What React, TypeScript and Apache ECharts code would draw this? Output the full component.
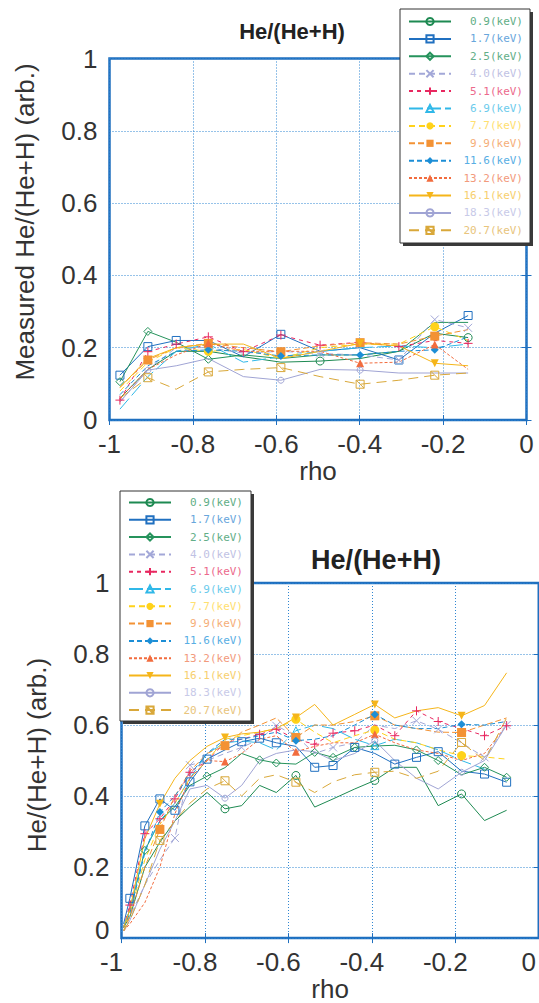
import React, { useEffect, useRef } from "react";
import * as echarts from "echarts";

// ---------- data ----------
const NAMES = [
  "0.9(keV)", "1.7(keV)", "2.5(keV)", "4.0(keV)", "5.1(keV)", "6.9(keV)", "7.7(keV)",
  "9.9(keV)", "11.6(keV)", "13.2(keV)", "16.1(keV)", "18.3(keV)", "20.7(keV)",
];
const X_TICKS = [-1, -0.8, -0.6, -0.4, -0.2, 0];
const Y_TICKS = [0, 0.2, 0.4, 0.6, 0.8, 1];

// upper panel: "Measured He/(He+H)"
const TOP_X = [-0.975, -0.908, -0.84, -0.763, -0.679, -0.589, -0.495, -0.399, -0.306, -0.22, -0.14];
const TOP_09 = [0.06, 0.14, 0.19, 0.19, 0.175, 0.16, 0.163, 0.17, 0.19, 0.24, 0.228];
const TOP_17 = [0.124, 0.203, 0.22, 0.22, 0.175, 0.237, 0.19, 0.2, 0.166, 0.24, 0.289];
const TOP_25 = [0.106, 0.245, 0.215, 0.168, 0.18, 0.17, 0.18, 0.18, 0.19, 0.27, 0.27];
const TOP_40 = [0.05, 0.14, 0.2, 0.2, 0.185, 0.19, 0.184, 0.18, 0.166, 0.278, 0.255];
const TOP_51 = [0.055, 0.189, 0.21, 0.23, 0.189, 0.235, 0.207, 0.215, 0.203, 0.22, 0.212];
const TOP_69 = [0.03, 0.12, 0.19, 0.21, 0.16, 0.175, 0.19, 0.2, 0.205, 0.2, 0.21];
const TOP_77 = [0.08, 0.16, 0.2, 0.19, 0.195, 0.17, 0.2, 0.21, 0.21, 0.258, 0.22];
const TOP_99 = [0.09, 0.166, 0.2, 0.212, 0.2, 0.189, 0.205, 0.214, 0.21, 0.232, 0.25];
const TOP_116 = [0.07, 0.15, 0.19, 0.194, 0.19, 0.177, 0.18, 0.18, 0.19, 0.194, 0.23];
const TOP_132 = [0.06, 0.14, 0.18, 0.212, 0.19, 0.19, 0.19, 0.157, 0.16, 0.209, 0.14];
const TOP_161 = [0.09, 0.17, 0.2, 0.21, 0.21, 0.17, 0.19, 0.212, 0.205, 0.157, 0.15];
const TOP_183 = [0.05, 0.138, 0.15, 0.17, 0.12, 0.11, 0.14, 0.138, 0.13, 0.13, 0.13];
const TOP_207 = [0.06, 0.117, 0.085, 0.133, 0.14, 0.145, 0.12, 0.099, 0.11, 0.124, 0.13];
const TOP_VALUES = [TOP_09, TOP_17, TOP_25, TOP_40, TOP_51, TOP_69, TOP_77, TOP_99, TOP_116, TOP_132, TOP_161, TOP_183, TOP_207];
const TOP_MARKS = [
  [6, 10], [0, 1, 2, 5, 8, 10], [0, 1, 3], [6, 8, 9, 10], [0, 1, 2, 3, 4, 5, 6, 8, 10], [3],
  [3, 9], [1, 3, 5, 7, 9], [3, 5, 7, 9], [3, 7, 9], [7, 9], [1, 5, 7], [1, 3, 5, 7, 9],
];

// lower panel: "He/(He+H)"
const BOT_X = [-0.995, -0.98, -0.944, -0.908, -0.872, -0.836, -0.795, -0.752, -0.712, -0.669, -0.629,
  -0.582, -0.537, -0.493, -0.441, -0.393, -0.345, -0.293, -0.241, -0.185, -0.13, -0.077];
const BOT_09 = [0.03, 0.06, 0.2, 0.27, 0.33, 0.37, 0.41, 0.364, 0.373, 0.43, 0.41, 0.458, 0.369, 0.392, 0.42, 0.444, 0.481, 0.481, 0.373, 0.406, 0.331, 0.36];
const BOT_17 = [0.04, 0.112, 0.316, 0.392, 0.36, 0.44, 0.504, 0.53, 0.553, 0.563, 0.55, 0.54, 0.481, 0.486, 0.537, 0.52, 0.49, 0.509, 0.525, 0.47, 0.462, 0.439];
const BOT_25 = [0.03, 0.08, 0.247, 0.33, 0.37, 0.43, 0.456, 0.48, 0.52, 0.502, 0.493, 0.49, 0.523, 0.509, 0.537, 0.541, 0.543, 0.53, 0.5, 0.46, 0.481, 0.453];
const BOT_40 = [0.02, 0.06, 0.15, 0.22, 0.282, 0.487, 0.5, 0.52, 0.537, 0.56, 0.598, 0.57, 0.52, 0.537, 0.55, 0.6, 0.59, 0.612, 0.588, 0.55, 0.509, 0.6];
const BOT_51 = [0.03, 0.093, 0.294, 0.336, 0.392, 0.467, 0.5, 0.55, 0.56, 0.574, 0.588, 0.56, 0.546, 0.577, 0.584, 0.6, 0.57, 0.64, 0.61, 0.59, 0.57, 0.598];
const BOT_69 = [0.03, 0.08, 0.25, 0.33, 0.38, 0.45, 0.52, 0.55, 0.555, 0.55, 0.53, 0.584, 0.6, 0.59, 0.56, 0.542, 0.56, 0.55, 0.53, 0.5, 0.476];
const BOT_77 = [0.02, 0.07, 0.22, 0.32, 0.38, 0.45, 0.5, 0.56, 0.57, 0.58, 0.59, 0.616, 0.58, 0.55, 0.57, 0.586, 0.56, 0.55, 0.53, 0.514, 0.51, 0.504];
const BOT_99 = [0.02, 0.06, 0.2, 0.306, 0.4, 0.47, 0.52, 0.542, 0.58, 0.6, 0.62, 0.565, 0.6, 0.6, 0.61, 0.626, 0.6, 0.59, 0.58, 0.579, 0.6, 0.62];
const BOT_116 = [0.03, 0.07, 0.24, 0.355, 0.4, 0.46, 0.52, 0.56, 0.56, 0.57, 0.58, 0.556, 0.56, 0.57, 0.6, 0.63, 0.6, 0.59, 0.59, 0.602, 0.6, 0.61];
const BOT_132 = [0.02, 0.04, 0.1, 0.2, 0.35, 0.45, 0.5, 0.497, 0.52, 0.56, 0.57, 0.525, 0.54, 0.55, 0.55, 0.574, 0.55, 0.53, 0.52, 0.5, 0.52, 0.6];
const BOT_161 = [0.03, 0.08, 0.28, 0.378, 0.45, 0.5, 0.54, 0.565, 0.575, 0.58, 0.59, 0.621, 0.658, 0.6, 0.63, 0.658, 0.62, 0.64, 0.649, 0.626, 0.655, 0.747];
const BOT_183 = [0.02, 0.05, 0.15, 0.25, 0.33, 0.42, 0.43, 0.394, 0.43, 0.5, 0.52, 0.53, 0.525, 0.5, 0.52, 0.556, 0.5, 0.45, 0.42, 0.467, 0.5, 0.6];
const BOT_207 = [0.02, 0.05, 0.15, 0.275, 0.33, 0.38, 0.42, 0.443, 0.4, 0.45, 0.46, 0.439, 0.41, 0.44, 0.46, 0.467, 0.47, 0.45, 0.47, 0.551, 0.5, 0.62];
const BOT_VALUES = [BOT_09, BOT_17, BOT_25, BOT_40, BOT_51, BOT_69, BOT_77, BOT_99, BOT_116, BOT_132, BOT_161, BOT_183, BOT_207];
const BOT_MARKS = [
  [7, 11, 15, 19], [1, 2, 3, 4, 5, 6, 8, 9, 10, 12, 13, 14, 16, 17, 18, 20, 21],
  [2, 6, 9, 10, 12, 13, 14, 15, 17, 18, 20, 21], [4, 5, 8, 10, 13, 17, 18, 20, 21],
  [1, 2, 3, 4, 5, 9, 10, 12, 13, 14, 16, 17, 18, 20, 21], [11, 15], [11, 15, 19],
  [3, 7, 11, 15, 19], [3, 11, 15, 19], [7, 11, 15], [3, 7, 11, 15, 19], [7, 15, 19], [3, 7, 11, 15, 19],
];

// ---------- styles ----------
const P_CIRCLE = "path://M5,0A5,5,0,1,1,4.999,0Z";
const P_SQUARE = "path://M0,0L10,0L10,10L0,10Z";
const P_DIAMOND = "path://M5,0L10,5L5,10L0,5Z";
const P_CROSS = "path://M0,0L10,10M10,0L0,10";
const P_PLUS = "path://M5,0L5,10M0,5L10,5";
const P_TRI = "path://M5,0L10,10L0,10Z";
const P_SQX = "path://M0,0L10,0L10,10L0,10ZM0,0L10,10";
const P_INVTRI = "path://M0,0L10,0L5,10Z";

const STYLES = [
  { color: "#1e8a52", text: "#5fae86", dash: "solid", symbol: P_CIRCLE, size: 8, filled: false },
  { color: "#2070c0", text: "#68a6dc", dash: "solid", symbol: P_SQUARE, size: 8, filled: false },
  { color: "#26935c", text: "#62ae88", dash: "solid", symbol: P_DIAMOND, size: 8, filled: false },
  { color: "#a3a8d8", text: "#bfc2e4", dash: [6, 4], symbol: P_CROSS, size: 8, filled: false },
  { color: "#e82860", text: "#ec6a8c", dash: [4, 4], symbol: P_PLUS, size: 9, filled: false },
  { color: "#30b8e8", text: "#6ccbec", dash: [14, 4], symbol: P_TRI, size: 8, filled: false },
  { color: "#ffd21a", text: "#ffe070", dash: [6, 4], symbol: "circle", size: 9, filled: true },
  { color: "#f39234", text: "#f5ae78", dash: [6, 3], symbol: "rect", size: 9, filled: true },
  { color: "#1c8ed6", text: "#58aee4", dash: [5, 3], symbol: "diamond", size: 8, filled: true },
  { color: "#f26c3e", text: "#f29a7c", dash: [3, 2], symbol: "triangle", size: 8, filled: true },
  { color: "#f5b51a", text: "#f7cf6e", dash: "solid", symbol: P_INVTRI, size: 8, filled: true },
  { color: "#a0a4d4", text: "#c8cae8", dash: "solid", symbol: P_CIRCLE, size: 6, filled: false },
  { color: "#d9a83a", text: "#e8c47c", dash: [10, 6], symbol: P_SQX, size: 8, filled: false },
];

const FRAME = "#1f6fbf";
const GRIDC = "#2f86d2";
const TXT = "#333333";
const FONT = "'Liberation Sans', Arial, sans-serif";
const MONO = "'DejaVu Sans Mono', monospace";

function makeSeries(grid: number, xs: number[], vals: number[], marks: number[], i: number) {
  const s = STYLES[i];
  return {
    type: "line",
    name: NAMES[i],
    xAxisIndex: grid * 2,
    yAxisIndex: grid * 2,
    data: vals.map((v, k) => (marks.includes(k) ? [xs[k], v] : { value: [xs[k], v], symbol: "none" })),
    symbol: s.symbol,
    symbolSize: s.size,
    showAllSymbol: true,
    showSymbol: true,
    lineStyle: { color: s.color, width: 1, type: s.dash },
    itemStyle: s.filled
      ? { color: s.color }
      : { color: "rgba(0,0,0,0)", borderColor: s.color, borderWidth: 1 },
    emphasis: { disabled: true },
    silent: true,
    z: 2,
  };
}

function axesFor(grid: number, labelShift: number, raiseZero: number) {
  const xMain: any = {
    type: "value", gridIndex: grid, min: X_TICKS[0], max: X_TICKS[X_TICKS.length - 1], interval: 0.2,
    position: "bottom",
    axisLine: { show: false },
    axisTick: { show: true, inside: true, length: 5, lineStyle: { color: FRAME, width: 1 } },
    axisLabel: { fontSize: 26, fontFamily: FONT, color: TXT, margin: 11, padding: [0, labelShift, 0, 0] },
    splitLine: { show: true, lineStyle: { color: GRIDC, width: 1, type: [1, 2] } },
    name: "rho", nameLocation: "middle", nameGap: 36,
    nameTextStyle: { fontSize: 26, fontFamily: FONT, color: TXT },
  };
  const xTop: any = {
    type: "value", gridIndex: grid, min: -1, max: 0, interval: 0.2, position: "top",
    axisLine: { show: false }, axisLabel: { show: false }, splitLine: { show: false },
    axisTick: { show: true, inside: true, length: 5, lineStyle: { color: FRAME, width: 1 } },
  };
  const yMain: any = {
    type: "value", gridIndex: grid, min: Y_TICKS[0], max: Y_TICKS[Y_TICKS.length - 1], interval: 0.2,
    position: "left",
    axisLine: { show: false },
    axisTick: { show: true, inside: true, length: 5, lineStyle: { color: FRAME, width: 1 } },
    axisLabel: {
      fontSize: 26, fontFamily: FONT, color: TXT, margin: 12,
      formatter: (v: number) => (v === 0 && raiseZero > 0 ? "{z|0}" : String(v)),
      rich: { z: { fontSize: 26, fontFamily: FONT, color: TXT, padding: [0, 0, raiseZero, 0] } },
    },
    splitLine: { show: true, lineStyle: { color: GRIDC, width: 1, type: [1, 2] } },
  };
  const yRight: any = {
    type: "value", gridIndex: grid, min: 0, max: 1, interval: 0.2, position: "right",
    axisLine: { show: false }, axisLabel: { show: false }, splitLine: { show: false },
    axisTick: { show: true, inside: true, length: 5, lineStyle: { color: FRAME, width: 1 } },
  };
  return { x: [xMain, xTop], y: [yMain, yRight] };
}

function legendFor(left: number, top: number, gap: number) {
  const rich: any = {};
  STYLES.forEach((s, i) => {
    rich["t" + i] = { width: 67, align: "right", fontFamily: MONO, fontSize: 11, color: s.text, lineHeight: 12 };
  });
  return {
    orient: "vertical",
    left,
    top,
    padding: 0,
    itemWidth: 42,
    itemHeight: 9,
    itemGap: gap,
    selectedMode: false,
    data: NAMES,
    formatter: (name: string) => `{t${NAMES.indexOf(name)}|${name}}`,
    textStyle: { fontFamily: MONO, fontSize: 11, rich },
    z: 6,
  };
}

export default function App() {
  const ref = useRef<HTMLDivElement>(null);
  useEffect(() => {
    if (!ref.current) return;
    const chart = echarts.init(ref.current, null, { renderer: "svg" });
    const a0 = axesFor(0, 0, 0);
    const a1 = axesFor(1, 20, 16);
    const series: any[] = [];
    TOP_VALUES.forEach((v, i) => series.push(makeSeries(0, TOP_X, v, TOP_MARKS[i], i)));
    BOT_VALUES.forEach((v, i) => series.push(makeSeries(1, BOT_X, v, BOT_MARKS[i], i)));

    const option: any = {
      animation: false,
      backgroundColor: "#ffffff",
      grid: [
        { left: 109.5, top: 58.5, width: 417, height: 361.5, show: true, borderColor: FRAME, borderWidth: 2.5, backgroundColor: "transparent" },
        { left: 121.5, top: 583, width: 417.5, height: 357, show: true, borderColor: FRAME, borderWidth: 2.5, backgroundColor: "transparent" },
      ],
      xAxis: [...a0.x, ...a1.x],
      yAxis: [...a0.y, ...a1.y],
      legend: [legendFor(408, 16, 6.4), legendFor(128, 497, 6.3)],
      graphic: {
        elements: [
          { type: "rect", z: 5, shape: { x: 403, y: 12, width: 130, height: 234 }, style: { fill: "#3a3a3a" } },
          { type: "rect", z: 5, shape: { x: 400, y: 9, width: 130, height: 234 }, style: { fill: "#ffffff", stroke: "#333333", lineWidth: 1 } },
          { type: "rect", z: 5, shape: { x: 123, y: 494, width: 131, height: 230 }, style: { fill: "#3a3a3a" } },
          { type: "rect", z: 5, shape: { x: 120, y: 491, width: 131, height: 230 }, style: { fill: "#ffffff", stroke: "#333333", lineWidth: 1 } },
          {
            type: "text", z: 7, x: 292, y: 31,
            style: { text: "He/(He+H)", fontSize: 22, fontWeight: "bold", fontFamily: FONT, fill: "#222", textAlign: "center", textVerticalAlign: "middle" },
          },
          {
            type: "text", z: 7, x: 376, y: 560,
            style: { text: "He/(He+H)", fontSize: 27, fontWeight: "bold", fontFamily: FONT, fill: "#222", textAlign: "center", textVerticalAlign: "middle" },
          },
          {
            type: "text", z: 7, x: 25, y: 222, rotation: Math.PI / 2,
            style: { text: "Measured He/(He+H) (arb.)", fontSize: 26, fontFamily: FONT, fill: TXT, textAlign: "center", textVerticalAlign: "middle" },
          },
          {
            type: "text", z: 7, x: 37, y: 755, rotation: Math.PI / 2,
            style: { text: "He/(He+H) (arb.)", fontSize: 26, fontFamily: FONT, fill: TXT, textAlign: "center", textVerticalAlign: "middle" },
          },
        ],
      },
      series,
    };
    chart.setOption(option);
    return () => chart.dispose();
  }, []);
  return <div ref={ref} style={{ position: "absolute", left: 0, top: 0, width: 539, height: 1003 }} />;
}
